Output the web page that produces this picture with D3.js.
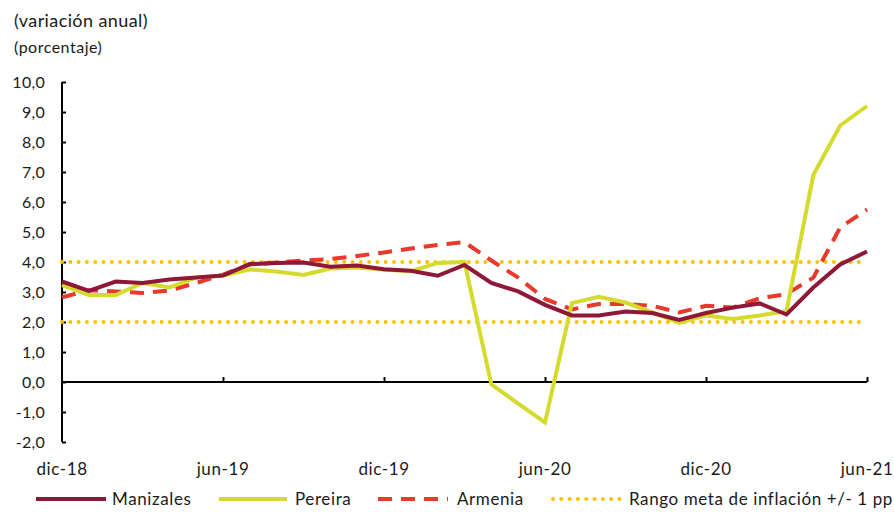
<!DOCTYPE html>
<html>
<head>
<meta charset="utf-8">
<script src="https://cdn.jsdelivr.net/npm/d3@7"></script>
<style>
  body { margin: 0; background: #fff; }
  text { font-family: Lato, "Open Sans", sans-serif; fill: #1a1a1a; }
</style>
</head>
<body>
<svg id="chart" width="894" height="512"></svg>
<script>
// monthly categories, dic-18 .. jun-21
var months = ["dic-18", "ene-19", "feb-19", "mar-19", "abr-19", "may-19", "jun-19", "jul-19", "ago-19", "sep-19",
    "oct-19", "nov-19", "dic-19", "ene-20", "feb-20", "mar-20", "abr-20", "may-20", "jun-20", "jul-20",
    "ago-20", "sep-20", "oct-20", "nov-20", "dic-20", "ene-21", "feb-21", "mar-21", "abr-21", "may-21", "jun-21"];

var manizales = [3.35, 3.04, 3.35, 3.3, 3.42, 3.48, 3.55, 3.93, 3.97, 3.98, 3.84, 3.88, 3.76, 3.71, 3.54, 3.9,
    3.3, 3.02, 2.57, 2.22, 2.22, 2.35, 2.3, 2.07, 2.3, 2.48, 2.62, 2.25, 3.15, 3.92, 4.35];
var pereira = [3.23, 2.9, 2.9, 3.3, 3.15, 3.48, 3.55, 3.75, 3.68, 3.57, 3.78, 3.82, 3.74, 3.69, 3.97, 4.0,
    -0.08, -0.72, -1.35, 2.63, 2.84, 2.65, 2.32, 1.97, 2.22, 2.1, 2.22, 2.36, 6.9, 8.55, 9.2];
var armenia = [2.82, 3.06, 3.02, 2.97, 3.05, 3.3, 3.58, 3.92, 3.98, 4.05, 4.1, 4.2, 4.32, 4.45, 4.57, 4.66,
    4.05, 3.48, 2.77, 2.42, 2.6, 2.6, 2.54, 2.32, 2.54, 2.48, 2.79, 2.93, 3.48, 5.15, 5.75];
var rangoSup = months.map(function () { return 4.0; });
var rangoInf = months.map(function () { return 2.0; });

var xTickLabels = ["dic-18", "jun-19", "dic-19", "jun-20", "dic-20", "jun-21"];
var yTicks = [-2, -1, 0, 1, 2, 3, 4, 5, 6, 7, 8, 9, 10];

var svg = d3.select("#chart");

var x = d3.scalePoint().domain(months).range([62, 867]);
var y = d3.scaleLinear().domain([-2, 10]).range([442, 82]);

var fmt = function (d) { return d3.format(".1f")(d).replace(".", ",").replace("−", "-"); };

// titles
svg.append("text").attr("x", 14).attr("y", 27).style("font-size", "18px").style("letter-spacing", "0.4px").text("(variación anual)");
svg.append("text").attr("x", 14).attr("y", 53).style("font-size", "16px").style("letter-spacing", "0.5px").text("(porcentaje)");

// y axis (ticks pointing inside)
var yAxis = d3.axisRight(y).tickValues(yTicks).tickSize(4).tickFormat("");
var gy = svg.append("g").attr("transform", "translate(62,0)").call(yAxis);
gy.select(".domain").attr("d", "M0," + y(10) + "V" + y(-2)).attr("stroke", "#000").attr("stroke-width", 2);
gy.selectAll(".tick line").attr("stroke", "#000").attr("stroke-width", 2);

svg.append("g").selectAll("text")
    .data(yTicks)
    .enter()
    .append("text")
    .attr("x", 45)
    .attr("y", function (d) { return y(d); })
    .attr("dy", "0.36em")
    .attr("text-anchor", "end")
    .style("font-size", "16px")
    .style("letter-spacing", "0.3px")
    .text(fmt);

// x axis at zero, ticks pointing up
var xAxis = d3.axisTop(x).tickValues(xTickLabels.slice(1)).tickSize(5).tickFormat("");
var gx = svg.append("g").attr("transform", "translate(0," + y(0) + ")").call(xAxis);
gx.select(".domain").attr("d", "M62,0H" + x("jun-21")).attr("stroke", "#000").attr("stroke-width", 2);
gx.selectAll(".tick line").attr("stroke", "#000").attr("stroke-width", 2);

svg.append("g").selectAll("text")
    .data(xTickLabels)
    .enter()
    .append("text")
    .attr("x", function (d) { return x(d); })
    .attr("y", 475)
    .attr("text-anchor", "middle")
    .style("font-size", "17px")
    .style("letter-spacing", "0.6px")
    .text(function (d) { return d; });

// series
var series = [
    { name: "Rango meta de inflación +/- 1 pp", values: rangoSup, color: "#FFC000", width: 4, dash: "0 8.3", cap: "round", legend: true },
    { name: "rangoInf", values: rangoInf, color: "#FFC000", width: 4, dash: "0 8.3", cap: "round", legend: false },
    { name: "Armenia", values: armenia, color: "#E8392B", width: 4, dash: "14 9", cap: "butt", legend: true },
    { name: "Pereira", values: pereira, color: "#D4DB2C", width: 4, dash: null, cap: "butt", legend: true },
    { name: "Manizales", values: manizales, color: "#8E1836", width: 4, dash: null, cap: "butt", legend: true }
];

var line = d3.line()
    .x(function (d, i) { return x(months[i]); })
    .y(function (d) { return y(d); });

svg.append("g").selectAll("path")
    .data(series)
    .enter()
    .append("path")
    .attr("d", function (d) { return line(d.values); })
    .attr("fill", "none")
    .attr("stroke", function (d) { return d.color; })
    .attr("stroke-width", function (d) { return d.width; })
    .attr("stroke-dasharray", function (d) { return d.dash; })
    .attr("stroke-linecap", function (d) { return d.cap; })
    .attr("stroke-linejoin", "miter");

// legend
var legendItems = [
    { s: series[4], x0: 36, x1: 106, tx: 112 },
    { s: series[3], x0: 219, x1: 287, tx: 295 },
    { s: series[2], x0: 378, x1: 448, tx: 457 },
    { s: series[0], x0: 553, x1: 621, tx: 629 }
];
var lg = svg.append("g");
legendItems.forEach(function (it) {
    lg.append("line")
        .attr("x1", it.x0).attr("x2", it.x1)
        .attr("y1", 499).attr("y2", 499)
        .attr("stroke", it.s.color)
        .attr("stroke-width", it.s.width)
        .attr("stroke-dasharray", it.s.dash)
        .attr("stroke-linecap", it.s.cap);
    lg.append("text")
        .attr("x", it.tx).attr("y", 505)
        .style("font-size", "17px")
        .style("letter-spacing", "0.6px")
        .text(it.s.name);
});
</script>
</body>
</html>
